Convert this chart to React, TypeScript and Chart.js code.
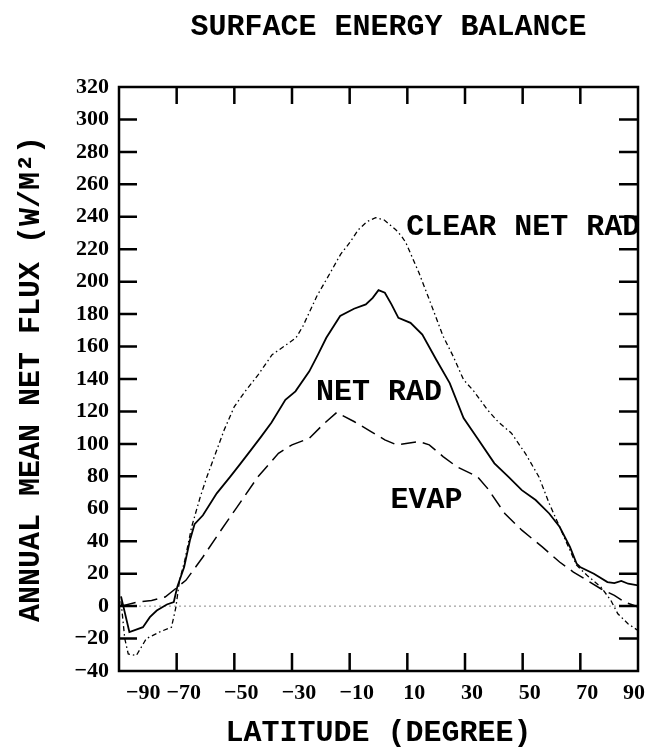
import React, { useEffect, useRef } from 'react';
import { Chart, registerables } from 'chart.js';

Chart.register(...registerables);

// Axis ticks
const LAT_TICKS = [-90, -70, -50, -30, -10, 10, 30, 50, 70, 90];
const FLUX_TICKS = [-40, -20, 0, 20, 40, 60, 80, 100, 120, 140, 160, 180, 200, 220, 240, 260, 280, 300, 320];

// Net radiation (W/m^2) by latitude
const NET_RAD_LAT = [-89.3, -86.4, -81.7, -79.3, -76.9, -73.4, -71, -69.8, -67.4, -65.4, -63.8, -60.9, -56.1, -51.4, -47.8, -44.2, -40.7, -37.1, -32.3, -28.8, -24, -21, -18.1, -13.3, -8.5, -4.4, -2, 0, 2.2, 4.5, 6.9, 11.1, 15.2, 20, 24.7, 29.5, 34.3, 40.2, 45, 49.7, 54.5, 59.2, 62.8, 66.4, 68.7, 69.9, 74.7, 79.4, 81.8, 84.2, 86.6, 90];
const NET_RAD = [6, -16, -13, -6.8, -2.7, 1, 2.5, 11.8, 24.1, 40.6, 50.5, 56, 69.5, 79.8, 88, 96.3, 104.5, 113.2, 127.2, 132.4, 144.7, 155, 165.4, 178.8, 183.3, 186, 190, 194.8, 193.2, 186, 177.7, 174.6, 167.4, 152, 137.5, 115.9, 103.5, 88, 79.8, 71.5, 65.4, 57.1, 48.9, 36.5, 26.2, 24.1, 20, 14.8, 14.2, 15.5, 13.8, 12.8];

// Clear-sky net radiation
const CLEAR_LAT = [-89.3, -88, -86.8, -84, -80.5, -76, -71.8, -70.3, -69, -67.2, -64.8, -61.8, -59.5, -56.5, -53.5, -50, -46.4, -41.7, -36.9, -32.7, -28.6, -26.2, -21.4, -16.7, -13.1, -10, -7, -4, -1, 2, 4, 6, 8, 9.5, 14, 17.6, 22.4, 25.9, 29.5, 33.1, 37.8, 41.4, 46.1, 50.9, 55.6, 59.2, 62.8, 66.4, 68.7, 72.3, 77.1, 80.6, 83, 86.6, 90];
const CLEAR_NET_RAD = [3, -20, -29.5, -30.5, -20, -16, -13, -1, 15.9, 28, 48.9, 67.4, 79.8, 94.2, 108.7, 123, 132, 142.7, 155, 160.2, 165.4, 172.6, 191, 205.6, 217, 224, 232, 237, 239.5, 238, 235, 232, 228, 224, 205.6, 189, 166.4, 154, 139.6, 132.4, 121, 113.8, 106.6, 94.2, 79.8, 63.3, 48.9, 34.4, 25.2, 19, 11.8, 3.5, -4.7, -11, -15];

// Evaporation (latent heat flux)
const EVAP_LAT = [-89.3, -83.5, -78.7, -74, -70.4, -66.8, -60.9, -55, -49, -41.8, -34.7, -30, -24, -19.3, -14.5, -8.5, -2.6, 2.2, 6.3, 14, 17.6, 22.4, 27.1, 34.3, 37.8, 43.8, 49.7, 56.8, 62.8, 67.6, 72.3, 77.1, 81.8, 85.4, 90];
const EVAP = [0, 2.5, 3.5, 5.6, 10.7, 15.9, 30.3, 45.8, 61.2, 79.8, 94.2, 99.4, 103.5, 111.8, 119.4, 113.8, 107.6, 102.5, 99.4, 101.4, 99.4, 92.2, 86, 79.8, 72.6, 57.1, 46.8, 36.5, 27.2, 21, 15.9, 10.7, 6.6, 2.5, -0.5];

// Reference line at zero flux
const ZERO_LAT = [-90, 90];
const ZERO = [0, 0];

const TITLE = 'SURFACE ENERGY BALANCE';
const X_TITLE = 'LATITUDE (DEGREE)';
const Y_TITLE = 'ANNUAL MEAN NET FLUX (W/M\u00B2)';

// Curve captions, anchored in data units (latitude, flux)
const CURVE_LABELS = [
  { text: 'CLEAR NET RAD', lat: 9.6, flux: 233.6 },
  { text: 'NET RAD', lat: -21.7, flux: 131.6 },
  { text: 'EVAP', lat: 4.2, flux: 65.3 },
];

const MONO = '"Liberation Mono", "DejaVu Sans Mono", monospace';
const SERIF = '"Liberation Serif", "DejaVu Serif", serif';

const toPoints = (xs: number[], ys: number[]) => xs.map((x, i) => ({ x, y: ys[i] }));
const signed = (v: number) => (v < 0 ? '\u2212' + Math.abs(v) : String(v));

const framePlugin = {
  id: 'frame',
  afterDraw(chart: any) {
    const { ctx, chartArea: a, scales } = chart;
    const x = scales.x;
    const y = scales.y;
    ctx.save();
    ctx.strokeStyle = '#000';
    ctx.lineWidth = 2.5;
    ctx.strokeRect(a.left, a.top, a.right - a.left, a.bottom - a.top);

    // inward tick marks on all four sides
    ctx.beginPath();
    FLUX_TICKS.slice(1, -1).forEach((v) => {
      const py = y.getPixelForValue(v);
      ctx.moveTo(a.left, py);
      ctx.lineTo(a.left + 18, py);
      ctx.moveTo(a.right, py);
      ctx.lineTo(a.right - 19, py);
    });
    LAT_TICKS.slice(1, -1).forEach((v) => {
      const px = x.getPixelForValue(v);
      ctx.moveTo(px, a.bottom);
      ctx.lineTo(px, a.bottom - 18);
      ctx.moveTo(px, a.top);
      ctx.lineTo(px, a.top + 17);
    });
    ctx.stroke();

    ctx.fillStyle = '#000';
    ctx.font = `bold 30px ${MONO}`;
    ctx.textAlign = 'center';
    ctx.textBaseline = 'alphabetic';
    ctx.fillText(TITLE, (a.left + a.right) / 2 + 10, 35);

    ctx.textAlign = 'left';
    ctx.textBaseline = 'middle';
    CURVE_LABELS.forEach((l) => {
      ctx.fillText(l.text, x.getPixelForValue(l.lat), y.getPixelForValue(l.flux));
    });
    ctx.restore();
  },
};

export default function App() {
  const canvasRef = useRef<HTMLCanvasElement | null>(null);

  useEffect(() => {
    const canvas = canvasRef.current;
    if (!canvas) return;
    const tickFont = { family: SERIF, size: 22, weight: 'bold' as const };
    const titleFont = { family: MONO, size: 30, weight: 'bold' as const };

    const chart = new Chart(canvas, {
      type: 'line',
      data: {
        datasets: [
          {
            label: 'NET RAD',
            data: toPoints(NET_RAD_LAT, NET_RAD),
            borderColor: '#000',
            borderWidth: 1.8,
            pointRadius: 0,
            tension: 0,
          },
          {
            label: 'CLEAR NET RAD',
            data: toPoints(CLEAR_LAT, CLEAR_NET_RAD),
            borderColor: '#000',
            borderWidth: 1.3,
            borderDash: [5, 3, 1.5, 3],
            pointRadius: 0,
            tension: 0,
          },
          {
            label: 'EVAP',
            data: toPoints(EVAP_LAT, EVAP),
            borderColor: '#000',
            borderWidth: 1.5,
            borderDash: [15, 7],
            pointRadius: 0,
            tension: 0,
          },
          {
            label: 'zero',
            data: toPoints(ZERO_LAT, ZERO),
            borderColor: '#888',
            borderWidth: 1,
            borderDash: [2, 3],
            pointRadius: 0,
          },
        ],
      },
      options: {
        animation: false,
        responsive: false,
        maintainAspectRatio: false,
        layout: { padding: { top: 87, right: 5, left: 0, bottom: 0 } },
        plugins: {
          legend: { display: false },
          tooltip: { enabled: false },
          title: { display: false },
        },
        scales: {
          x: {
            type: 'linear',
            min: -90,
            max: 90,
            afterBuildTicks: (s: any) => {
              s.ticks = LAT_TICKS.map((value) => ({ value }));
            },
            afterFit: (s: any) => {
              s.height = 80;
            },
            grid: { display: false, drawTicks: false },
            border: { display: false },
            ticks: {
              font: tickFont,
              color: '#000',
              padding: 9,
              labelOffset: 7,
              align: 'inner',
              maxRotation: 0,
              autoSkip: false,
              callback: (v: any) => signed(Number(v)),
            },
            title: {
              display: true,
              text: X_TITLE,
              font: titleFont,
              color: '#000',
              padding: 0,
            },
          },
          y: {
            type: 'linear',
            min: -40,
            max: 320,
            afterBuildTicks: (s: any) => {
              s.ticks = FLUX_TICKS.map((value) => ({ value }));
            },
            afterFit: (s: any) => {
              s.width = 119;
            },
            grid: { display: false, drawTicks: false },
            border: { display: false },
            ticks: {
              font: tickFont,
              color: '#000',
              padding: 10,
              autoSkip: false,
              callback: (v: any) => signed(Number(v)),
            },
            title: {
              display: true,
              text: Y_TITLE,
              font: titleFont,
              color: '#000',
              padding: { top: 13, bottom: 0 },
            },
          },
        },
      },
      plugins: [framePlugin],
    } as any);

    return () => chart.destroy();
  }, []);

  return (
    <div style={{ position: 'fixed', left: 0, top: 0, width: 647, height: 751, background: '#fff' }}>
      <canvas ref={canvasRef} width={647} height={751} style={{ display: 'block' }} />
    </div>
  );
}
